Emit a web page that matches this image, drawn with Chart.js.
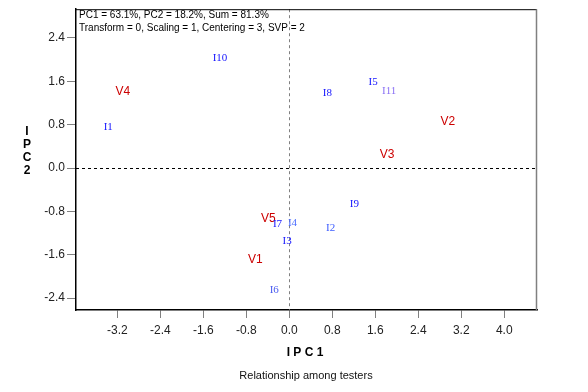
<!DOCTYPE html>
<html>
<head>
<meta charset="utf-8">
<script src="https://cdn.jsdelivr.net/npm/chart.js@4.4.1/dist/chart.umd.min.js"></script>
<style>
html,body{margin:0;padding:0;background:#fff;}
#wrap{width:588px;height:392px;}
</style>
</head>
<body>
<div id="wrap"><canvas id="c" width="588" height="392"></canvas></div>
<script>
// ---- data ----
const varietyNames = ["V1","V2","V3","V4","V5"];
const varietyPC1   = [-0.63, 2.95, 1.82, -3.10, -0.39];
const varietyPC2   = [-1.69, 0.85, 0.25, 1.41, -0.94];

const testerNames = ["I1","I2","I3","I4","I5","I6","I7","I8","I9","I10","I11"];
const testerPC1   = [-3.37, 0.77, -0.04, 0.06, 1.56, -0.28, -0.22, 0.71, 1.21, -1.29, 1.86];
const testerPC2   = [0.76, -1.10, -1.34, -1.01, 1.59, -2.26, -1.04, 1.38, -0.67, 2.03, 1.42];

const xTickValues = [-3.2, -2.4, -1.6, -0.8, 0.0, 0.8, 1.6, 2.4, 3.2, 4.0];
const yTickValues = [-2.4, -1.6, -0.8, 0.0, 0.8, 1.6, 2.4];

const headerLines = ["PC1 = 63.1%, PC2 = 18.2%, Sum = 81.3%",
                     "Transform = 0, Scaling = 1, Centering = 3, SVP = 2"];
const xTitle = "I P C 1";
const yTitleLetters = ["I","P","C","2"];
const subtitle = "Relationship among testers";

// ---- styles ----
const testerColor = "#1515ff";
const testerColorAlt = {"I11":"#8a70f5","I4":"#4a6cff","I2":"#3c5cff","I6":"#4a5cf0"};
const varietyColor = "#cc0000";

const varietyPts = varietyNames.map((n,i)=>({x:varietyPC1[i], y:varietyPC2[i], label:n}));
const testerPts  = testerNames.map((n,i)=>({x:testerPC1[i], y:testerPC2[i], label:n}));

const labelPlugin = {
  id:'labelPlugin',
  beforeDatasetsDraw(chart){
    const {ctx, chartArea:a, scales:{x,y}} = chart;
    ctx.save();
    // zero lines
    ctx.lineWidth = 1;
    ctx.setLineDash([3,3]);
    ctx.strokeStyle = "#000";
    const y0 = Math.round(y.getPixelForValue(0)) + 0.5;
    ctx.beginPath(); ctx.moveTo(a.left, y0); ctx.lineTo(a.right, y0); ctx.stroke();
    ctx.strokeStyle = "#808080";
    const x0 = Math.round(x.getPixelForValue(0)) + 0.5;
    ctx.beginPath(); ctx.moveTo(x0, a.top); ctx.lineTo(x0, a.bottom); ctx.stroke();
    ctx.setLineDash([]);
    // frame top (black) and right (grey)
    ctx.strokeStyle = "#000";
    ctx.beginPath(); ctx.moveTo(a.left, a.top+0.5); ctx.lineTo(a.right, a.top+0.5); ctx.stroke();
    ctx.strokeStyle = "#808080";
    ctx.lineWidth = 1.5;
    ctx.beginPath(); ctx.moveTo(a.right-0.5, a.top); ctx.lineTo(a.right-0.5, a.bottom); ctx.stroke();
    ctx.restore();
  },
  afterDatasetsDraw(chart){
    const {ctx, chartArea:a, scales:{x,y}} = chart;
    ctx.save();
    ctx.textAlign = "center";
    ctx.textBaseline = "middle";
    chart.data.datasets.forEach((ds)=>{
      ds.data.forEach(p=>{
        const px = x.getPixelForValue(p.x), py = y.getPixelForValue(p.y);
        if (ds.kind === 'variety'){
          ctx.font = "12px 'Liberation Sans', Arial, sans-serif";
          ctx.fillStyle = varietyColor;
        } else {
          ctx.font = "11px 'Liberation Serif', 'Times New Roman', serif";
          ctx.fillStyle = testerColorAlt[p.label] || testerColor;
        }
        ctx.fillText(p.label, px, py);
      });
    });
    // header text
    ctx.textAlign = "left";
    ctx.fillStyle = "#000";
    ctx.font = "10px 'Liberation Sans', Arial, sans-serif";
    ctx.fillText(headerLines[0], a.left + 3, a.top + 6);
    ctx.fillText(headerLines[1], a.left + 3, a.top + 19);
    // titles
    ctx.textAlign = "center";
    ctx.font = "bold 12px 'Liberation Sans', Arial, sans-serif";
    ctx.fillText(xTitle, 305, 353);
    yTitleLetters.forEach((l,i)=> ctx.fillText(l, 27, 132 + i*12.8));
    ctx.font = "11px 'Liberation Sans', Arial, sans-serif";
    ctx.fillStyle = "#111";
    ctx.fillText(subtitle, 306, 376);
    ctx.restore();
  }
};

new Chart(document.getElementById('c'), {
  type:'scatter',
  data:{datasets:[
    {kind:'variety', data:varietyPts, pointRadius:0, pointHoverRadius:0},
    {kind:'tester', data:testerPts, pointRadius:0, pointHoverRadius:0}
  ]},
  options:{
    responsive:false, animation:false, devicePixelRatio:1,
    layout:{padding:{top:8, right:51, left:0, bottom:0}},
    plugins:{legend:{display:false}, tooltip:{enabled:false}},
    scales:{
      x:{
        type:'linear', min:-3.97, max:4.61,
        afterBuildTicks(s){ s.ticks = xTickValues.map(v=>({value:v})); },
        afterFit(s){ s.height = 82; },
        grid:{drawOnChartArea:false, tickLength:8, color:"#808080", tickWidth:1},
        border:{color:"#000", width:1.5},
        ticks:{padding:5, color:"#222", font:{family:"'Liberation Sans', Arial, sans-serif", size:12},
               maxRotation:0, autoSkip:false, callback:(v)=>Number(v).toFixed(1)}
      },
      y:{
        type:'linear', min:-2.62, max:2.93,
        afterBuildTicks(s){ s.ticks = yTickValues.map(v=>({value:v})); },
        afterFit(s){ s.width = 76; },
        grid:{drawOnChartArea:false, tickLength:9, color:"#808080", tickWidth:1},
        border:{color:"#000", width:1.5},
        ticks:{padding:2, color:"#222", font:{family:"'Liberation Sans', Arial, sans-serif", size:12},
               autoSkip:false, callback:(v)=>Number(v).toFixed(1)}
      }
    }
  },
  plugins:[labelPlugin]
});
</script>
</body>
</html>
